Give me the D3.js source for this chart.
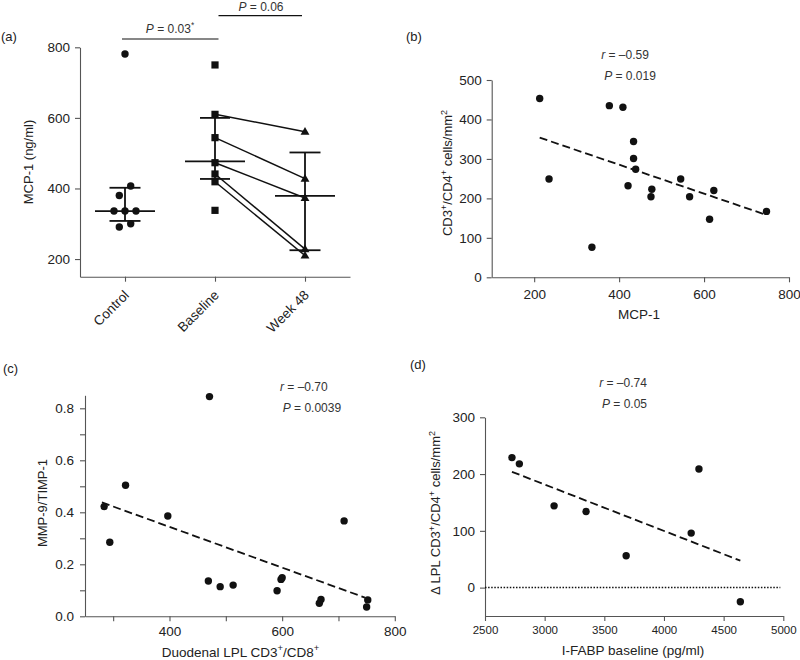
<!DOCTYPE html>
<html>
<head>
<meta charset="utf-8">
<script src="https://cdn.jsdelivr.net/npm/d3@7"></script>
<style>
  html, body { margin: 0; padding: 0; background: #fff; }
  svg { display: block; font-family: "Liberation Sans", Arial, Helvetica, sans-serif; }
</style>
</head>
<body>
<svg id="chart" width="800" height="660"></svg>
<script>
// ---------------- DATA ----------------
// Panel (a)
const aCategories = ["Control", "Baseline", "Week 48"];
const aControl = [781, 407, 380, 336, 336, 336, 300, 291];
const aBaselineUnpaired = [750, 338];
const aBaselinePaired = [610, 544, 473, 441, 419];
const aWeek48Paired = [561, 428, 373, 228, 210];
const aMedian = [336, 477, 379];
const aUpper = [402, 600, 502];
const aLower = [308, 427, 225];
const aYTicks = [200, 400, 600, 800];
const aPText1 = "P = 0.03";
const aPText2 = "P = 0.06";

// Panel (b)
const bX = [213, 235, 377, 409, 434, 434, 439, 421, 477, 475, 545, 566, 623, 747, 613, 336];
const bY = [453, 249, 435, 431, 344, 301, 274, 232, 223, 204, 249, 204, 220, 167, 147, 76];
const bFitX = [213, 747];
const bFitY = [354, 158];
const bXTicks = [200, 400, 600, 800];
const bYTicks = [0, 100, 200, 300, 400, 500];

// Panel (c)
const cX = [471, 322, 284, 294, 397, 469, 490, 513, 591, 598, 600, 666, 669, 710, 752, 750];
const cY = [0.845, 0.504, 0.422, 0.285, 0.386, 0.136, 0.114, 0.120, 0.098, 0.142, 0.148, 0.050, 0.065, 0.367, 0.063, 0.036];
const cFitX = [280, 747];
const cFitY = [0.438, 0.072];
const cXTicks = [300, 400, 500, 600, 700, 800];
const cXLabelled = [400, 600, 800];
const cYTicks = [0, 0.1, 0.2, 0.3, 0.4, 0.5, 0.6, 0.7, 0.8];
const cYLabelled = [0, 0.2, 0.4, 0.6, 0.8];

// Panel (d)
const dX = [2726, 2788, 4293, 3079, 3347, 3683, 4228, 4640];
const dY = [229, 218, 209, 144, 134, 56, 96, -25];
const dFitX = [2726, 4640];
const dFitY = [204, 47.5];
const dXTicks = [2500, 3000, 3500, 4000, 4500, 5000];
const dYTicks = [0, 100, 200, 300];

// ---------------- DRAWING ----------------
const svg = d3.select("#chart");
const INK = "#111";
const AXIS = "#555";
const TXT = "#222";

function styleAxis(g, fontSize) {
  g.select(".domain").attr("stroke", AXIS).attr("stroke-width", 1.1);
  g.selectAll(".tick line").attr("stroke", AXIS).attr("stroke-width", 1.1);
  g.selectAll(".tick text").attr("fill", TXT).style("font-size", fontSize + "px")
    .style("font-family", '"Liberation Sans", Arial, sans-serif');
}

function text(x, y, str, opts = {}) {
  const t = svg.append("text").attr("x", x).attr("y", y)
    .attr("fill", opts.fill || TXT)
    .style("font-size", (opts.size || 13) + "px")
    .attr("text-anchor", opts.anchor || "start");
  if (str) t.text(str);
  if (opts.rotate) t.attr("transform", `rotate(${opts.rotate},${x},${y})`);
  return t;
}

// rich text: parts = [[str, "n"|"sup"|"it"], ...]
function rich(t, parts, size) {
  let shift = 0;
  parts.forEach(([s, kind]) => {
    const sp = t.append("tspan").text(s);
    if (kind === "sup") {
      sp.attr("dy", -0.42 * size - shift).style("font-size", (size * 0.7) + "px");
      shift = -0.42 * size;
    } else {
      if (shift !== 0) { sp.attr("dy", -shift); shift = 0; }
      if (kind === "it") sp.style("font-style", "italic");
    }
  });
  return t;
}

function panelLabel(x, y, s) { text(x, y, s, { size: 13 }); }

function statLabel(x, y, letter, rest, anchor) {
  const t = text(x, y, "", { size: 12, anchor: anchor || "middle", fill: "#333" });
  rich(t, [[letter, "it"], [rest, "n"]], 12);
}

function dotMarks(xs, ys, xScale, yScale) {
  svg.append("g").selectAll("circle").data(xs).join("circle")
    .attr("cx", (d) => xScale(d))
    .attr("cy", (d, i) => yScale(ys[i]))
    .attr("r", 3.7).attr("fill", INK);
}

function fitLine(fx, fy, xScale, yScale) {
  svg.append("line")
    .attr("x1", xScale(fx[0])).attr("y1", yScale(fy[0]))
    .attr("x2", xScale(fx[1])).attr("y2", yScale(fy[1]))
    .attr("stroke", INK).attr("stroke-width", 1.8).attr("stroke-dasharray", "8,4");
}

// ===== Panel (a) =====
{
  const x = d3.scalePoint().domain(aCategories).range([80, 350]).padding(0.5);
  const y = d3.scaleLinear().domain([150, 800]).range([276.7, 47.3]);

  svg.append("g").attr("transform", "translate(80,0)")
    .call(d3.axisLeft(y).tickValues(aYTicks).tickSize(5).tickPadding(5).tickSizeOuter(0))
    .call((g) => styleAxis(g, 13.5));
  const xa = svg.append("g").attr("transform", "translate(0,276.7)")
    .call(d3.axisBottom(x).tickSize(5).tickSizeOuter(0))
    .call((g) => styleAxis(g, 13.5));
  xa.selectAll(".tick text")
    .attr("text-anchor", "end")
    .attr("transform", "translate(1,16) rotate(-45)")
    .attr("y", 0).attr("dy", "0.35em");

  // y label
  text(33, 162, "MCP-1 (ng/ml)", { size: 13, anchor: "middle", rotate: -90 });

  // error bars
  const capW = [31, 30, 31];
  const medW = [60, 60, 60];
  aCategories.forEach((c, i) => {
    const cx = x(c);
    const g = svg.append("g").attr("stroke", INK).attr("stroke-width", 1.8);
    g.append("line").attr("x1", cx).attr("x2", cx).attr("y1", y(aUpper[i])).attr("y2", y(aLower[i]));
    g.append("line").attr("x1", cx - capW[i] / 2).attr("x2", cx + capW[i] / 2).attr("y1", y(aUpper[i])).attr("y2", y(aUpper[i]));
    g.append("line").attr("x1", cx - capW[i] / 2).attr("x2", cx + capW[i] / 2).attr("y1", y(aLower[i])).attr("y2", y(aLower[i]));
    g.append("line").attr("x1", cx - medW[i] / 2).attr("x2", cx + medW[i] / 2).attr("y1", y(aMedian[i])).attr("y2", y(aMedian[i]));
  });

  // paired lines
  svg.append("g").selectAll("line").data(aBaselinePaired).join("line")
    .attr("x1", x("Baseline")).attr("y1", (d) => y(d))
    .attr("x2", x("Week 48")).attr("y2", (d, i) => y(aWeek48Paired[i]))
    .attr("stroke", INK).attr("stroke-width", 1.5);

  // control swarm: bin values that are close vertically, spread horizontally
  const sorted = aControl.map((v) => v).sort((a, b) => b - a);
  const bins = [];
  sorted.forEach((v) => {
    const last = bins[bins.length - 1];
    if (last && Math.abs(y(last[0]) - y(v)) < 11) last.push(v); else bins.push([v]);
  });
  const ctrl = [];
  bins.forEach((b) => {
    const n = b.length;
    const step = n === 2 ? 11.4 : 11;
    b.forEach((v, k) => {
      const off = n === 2 ? (k === 0 ? step / 2 : -step / 2) : (k - (n - 1) / 2) * step;
      ctrl.push({ v, off });
    });
  });
  svg.append("g").selectAll("circle").data(ctrl).join("circle")
    .attr("cx", (d) => x("Control") + d.off).attr("cy", (d) => y(d.v))
    .attr("r", 3.7).attr("fill", INK);

  // baseline squares
  const allBase = aBaselineUnpaired.concat(aBaselinePaired);
  svg.append("g").selectAll("rect").data(allBase).join("rect")
    .attr("x", x("Baseline") - 3.6).attr("y", (d) => y(d) - 3.6)
    .attr("width", 7.2).attr("height", 7.2).attr("fill", INK);

  // week 48 triangles
  const tri = d3.symbol().type(d3.symbolTriangle).size(34);
  svg.append("g").selectAll("path").data(aWeek48Paired).join("path")
    .attr("d", tri).attr("transform", (d) => `translate(${x("Week 48")},${y(d) + 0.5})`)
    .attr("fill", INK);

  // significance brackets
  svg.append("line").attr("x1", 122).attr("x2", x("Baseline") + 3.5).attr("y1", 39).attr("y2", 39)
    .attr("stroke", INK).attr("stroke-width", 1.2);
  svg.append("line").attr("x1", x("Baseline") + 3.5).attr("x2", 302).attr("y1", 15.7).attr("y2", 15.7)
    .attr("stroke", INK).attr("stroke-width", 1.2);
  const t1 = text(170, 33, "", { size: 12, anchor: "middle", fill: "#333" });
  rich(t1, [["P", "it"], [aPText1.slice(1), "n"], ["*", "sup"]], 12);
  const t2 = text(261, 10.5, "", { size: 12, anchor: "middle", fill: "#333" });
  rich(t2, [["P", "it"], [aPText2.slice(1), "n"]], 12);

  panelLabel(1, 41, "(a)");
}

// ===== Panel (b) =====
{
  const x = d3.scaleLinear().domain([100, 800]).range([491.7, 789]);
  const y = d3.scaleLinear().domain([0, 500]).range([277.3, 80]);
  svg.append("g").attr("transform", "translate(491.7,0)")
    .call(d3.axisLeft(y).tickValues(bYTicks).tickSize(5).tickPadding(5).tickSizeOuter(0))
    .call((g) => styleAxis(g, 13.5));
  svg.append("g").attr("transform", "translate(0,277.3)")
    .call(d3.axisBottom(x).tickValues(bXTicks).tickSize(5).tickPadding(7).tickSizeOuter(0))
    .call((g) => styleAxis(g, 13.5));

  fitLine(bFitX, bFitY, x, y);
  dotMarks(bX, bY, x, y);

  const yl = text(452, 173, "", { size: 13, anchor: "middle", rotate: -90 });
  rich(yl, [["CD3", "n"], ["+", "sup"], ["/CD4", "n"], ["+", "sup"], [" cells/mm", "n"], ["2", "sup"]], 13);
  text(639, 319, "MCP-1", { size: 13.5, anchor: "middle" });

  statLabel(625, 59.3, "r", " = \u20130.59");
  statLabel(630, 80, "P", " = 0.019");
  panelLabel(406, 41, "(b)");
}

// ===== Panel (c) =====
{
  const x = d3.scaleLinear().domain([250, 800]).range([85, 394.8]);
  const y = d3.scaleLinear().domain([0, 0.85]).range([616.3, 395.3]);
  svg.append("g").attr("transform", "translate(85,0)")
    .call(d3.axisLeft(y).tickValues(cYTicks).tickSize(5).tickPadding(6).tickSizeOuter(0)
      .tickFormat((d) => cYLabelled.some((v) => Math.abs(v - d) < 1e-9) ? d3.format(".1f")(d) : ""))
    .call((g) => styleAxis(g, 13.5));
  svg.append("g").attr("transform", "translate(0,616.3)")
    .call(d3.axisBottom(x).tickValues(cXTicks).tickSize(5).tickPadding(5).tickSizeOuter(0)
      .tickFormat((d) => cXLabelled.includes(d) ? d : ""))
    .call((g) => styleAxis(g, 13.5));

  fitLine(cFitX, cFitY, x, y);
  dotMarks(cX, cY, x, y);

  text(46.5, 503, "MMP-9/TIMP-1", { size: 13, anchor: "middle", rotate: -90 });
  const xl = text(240.5, 656.5, "", { size: 13.5, anchor: "middle" });
  rich(xl, [["Duodenal LPL CD3", "n"], ["+", "sup"], ["/CD8", "n"], ["+", "sup"]], 13.5);

  statLabel(280, 390.7, "r", " = \u20130.70", "start");
  statLabel(282.7, 411.7, "P", " = 0.0039", "start");
  panelLabel(3, 373, "(c)");
}

// ===== Panel (d) =====
{
  const x = d3.scaleLinear().domain([2500, 5000]).range([485, 783.3]);
  const y = d3.scaleLinear().domain([-50, 300]).range([616, 417.3]);
  svg.append("g").attr("transform", "translate(485,0)")
    .call(d3.axisLeft(y).tickValues(dYTicks).tickSize(5).tickPadding(5).tickSizeOuter(0))
    .call((g) => styleAxis(g, 13.5));
  svg.append("g").attr("transform", "translate(0,616)")
    .call(d3.axisBottom(x).tickValues(dXTicks).tickSize(5).tickPadding(5).tickSizeOuter(0)
      .tickFormat(d3.format("d")))
    .call((g) => styleAxis(g, 11.5));

  // zero reference line
  svg.append("line").attr("x1", x(2500)).attr("x2", x(4975)).attr("y1", y(0)).attr("y2", y(0))
    .attr("stroke", INK).attr("stroke-width", 1.5).attr("stroke-dasharray", "1.5,1.6");

  fitLine(dFitX, dFitY, x, y);
  dotMarks(dX, dY, x, y);

  const yl = text(440, 513, "", { size: 13, anchor: "middle", rotate: -90 });
  rich(yl, [["\u0394 LPL CD3", "n"], ["+", "sup"], ["/CD4", "n"], ["+", "sup"], [" cells/mm", "n"], ["2", "sup"]], 13);
  text(633, 655, "I-FABP baseline (pg/ml)", { size: 13.5, anchor: "middle" });

  statLabel(623, 387.3, "r", " = \u20130.74");
  statLabel(624.5, 408.3, "P", " = 0.05");
  panelLabel(410, 369, "(d)");
}
</script>
</body>
</html>
